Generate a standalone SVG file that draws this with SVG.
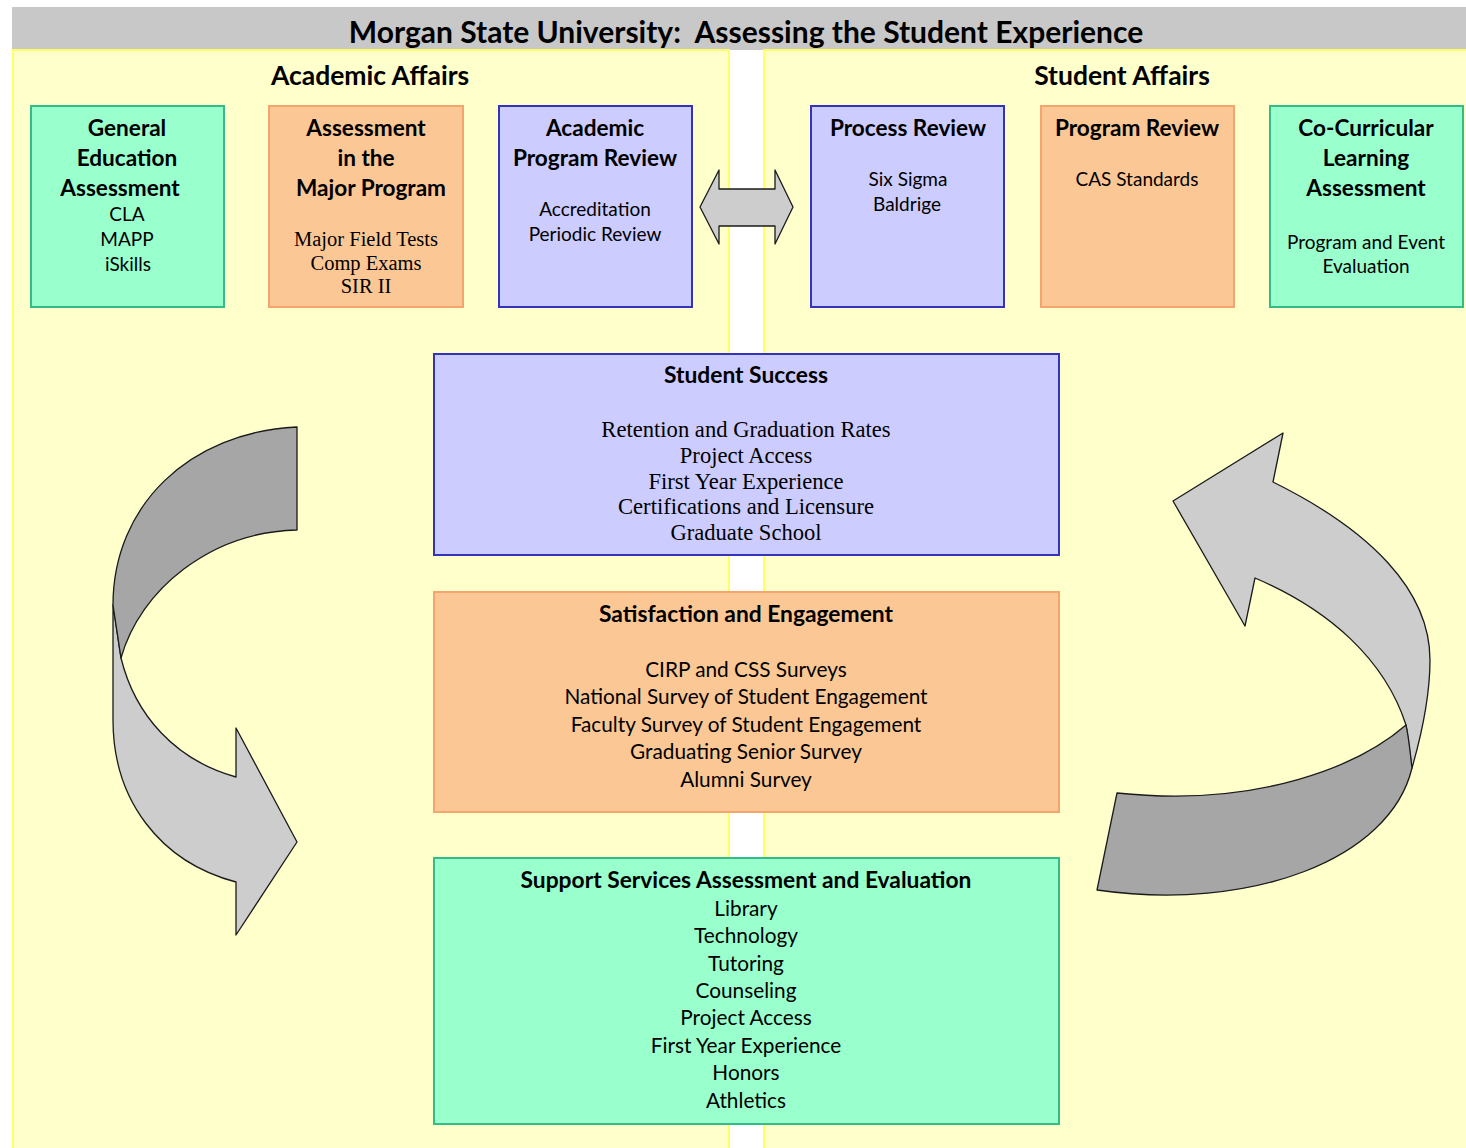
<svg xmlns="http://www.w3.org/2000/svg" width="1466" height="1148" viewBox="0 0 1466 1148">
<style>
.h{font-family:Lato,"Liberation Sans",sans-serif;font-weight:bold;fill:#000;text-anchor:middle}
.b{font-family:Lato,"Liberation Sans",sans-serif;fill:#000;text-anchor:middle}
.s{font-family:"Liberation Serif",serif;fill:#000;text-anchor:middle}
.green{fill:#99FFCC;stroke:#33BB88;stroke-width:2}
.orange{fill:#FBC895;stroke:#F4A46E;stroke-width:2}
.blue{fill:#CCCCFF;stroke:#3333BB;stroke-width:2}
.panel{fill:#FFFFCC;stroke:#FFFF66;stroke-width:2}
.light{fill:#CDCDCD;stroke:#1a1a1a;stroke-width:1.3;stroke-linejoin:round}
.dark{fill:#A6A6A6;stroke:#1a1a1a;stroke-width:1.3;stroke-linejoin:round}
</style>
<rect x="0" y="0" width="1466" height="1148" fill="#FFFFFF"/>
<rect x="12" y="7" width="1454" height="43" fill="#C8C8C8"/>
<rect class="panel" x="13" y="50" width="716" height="1100"/>
<rect class="panel" x="764" y="50" width="704" height="1100"/>
<text class="h" x="746" y="43" font-size="30" style="white-space:pre" xml:space="preserve">Morgan State University:  Assessing the Student Experience</text>
<text class="h" x="370" y="85" font-size="26.5">Academic Affairs</text>
<text class="h" x="1122" y="85" font-size="26.5">Student Affairs</text>

<g id="gen-ed">
<rect class="green" x="31" y="106" width="193" height="201"/>
<text class="h" font-size="22.6"><tspan x="127" y="136">General</tspan><tspan x="127" y="166">Education</tspan><tspan x="120" y="196">Assessment</tspan></text>
<text class="b" font-size="19"><tspan x="127" y="221">CLA</tspan><tspan x="127" y="246">MAPP</tspan><tspan x="128" y="271">iSkills</tspan></text>
</g>
<g id="major">
<rect class="orange" x="269" y="106" width="194" height="201"/>
<text class="h" font-size="22.6"><tspan x="366" y="136">Assessment</tspan><tspan x="366" y="166">in the</tspan><tspan x="371" y="196">Major Program</tspan></text>
<text class="s" font-size="20.5"><tspan x="366" y="246">Major Field Tests</tspan><tspan x="366" y="270">Comp Exams</tspan><tspan x="366" y="293">SIR II</tspan></text>
</g>
<g id="acad-review">
<rect class="blue" x="499" y="106" width="193" height="201"/>
<text class="h" font-size="22.6"><tspan x="595" y="136">Academic</tspan><tspan x="595" y="166">Program Review</tspan></text>
<text class="b" font-size="19"><tspan x="595" y="216">Accreditation</tspan><tspan x="595" y="241">Periodic Review</tspan></text>
</g>
<g id="process-review">
<rect class="blue" x="811" y="106" width="193" height="201"/>
<text class="h" font-size="22.6"><tspan x="908" y="136">Process Review</tspan></text>
<text class="b" font-size="19"><tspan x="908" y="186">Six Sigma</tspan><tspan x="907" y="211">Baldrige</tspan></text>
</g>
<g id="program-review">
<rect class="orange" x="1041" y="106" width="193" height="201"/>
<text class="h" font-size="22.6"><tspan x="1137" y="136">Program Review</tspan></text>
<text class="b" font-size="19"><tspan x="1137" y="186">CAS Standards</tspan></text>
</g>
<g id="co-curricular">
<rect class="green" x="1270" y="106" width="193" height="201"/>
<text class="h" font-size="22.6"><tspan x="1366" y="136">Co-Curricular</tspan><tspan x="1366" y="166">Learning</tspan><tspan x="1366" y="196">Assessment</tspan></text>
<text class="b" font-size="19"><tspan x="1366" y="249">Program and Event</tspan><tspan x="1366" y="273">Evaluation</tspan></text>
</g>

<g id="student-success">
<rect class="blue" x="434" y="354" width="625" height="201"/>
<text class="h" font-size="22.8" x="746" y="383">Student Success</text>
<text class="s" font-size="22.6"><tspan x="746" y="437">Retention and Graduation Rates</tspan><tspan x="746" y="463">Project Access</tspan><tspan x="746" y="489">First Year Experience</tspan><tspan x="746" y="514">Certifications and Licensure</tspan><tspan x="746" y="540">Graduate School</tspan></text>
</g>
<g id="satisfaction">
<rect class="orange" x="434" y="592" width="625" height="220"/>
<text class="h" font-size="22.8" x="746" y="622">Satisfaction and Engagement</text>
<text class="b" font-size="20.8"><tspan x="746" y="677">CIRP and CSS Surveys</tspan><tspan x="746" y="704">National Survey of Student Engagement</tspan><tspan x="746" y="732">Faculty Survey of Student Engagement</tspan><tspan x="746" y="759">Graduating Senior Survey</tspan><tspan x="746" y="787">Alumni Survey</tspan></text>
</g>
<g id="support">
<rect class="green" x="434" y="858" width="625" height="266"/>
<text class="h" font-size="22.8" x="746" y="888">Support Services Assessment and Evaluation</text>
<text class="b" font-size="20.8"><tspan x="746" y="916">Library</tspan><tspan x="746" y="943">Technology</tspan><tspan x="746" y="971">Tutoring</tspan><tspan x="746" y="998">Counseling</tspan><tspan x="746" y="1025">Project Access</tspan><tspan x="746" y="1053">First Year Experience</tspan><tspan x="746" y="1080">Honors</tspan><tspan x="746" y="1108">Athletics</tspan></text>
</g>

<g id="connectors">
<path class="light" d="M700,207 L719,170 L719,189 L775,189 L775,170 L793,207 L775,244 L775,226 L719,226 L719,244 Z"/>
<path class="light" d="M113,605 L113,720 C113,800 160,862 236,882 L236,935 L297,842 L236,728 L236,777 C175,760 135,715 121,658 Z"/>
<path class="dark" d="M297,427 C190,432 113,505 113,605 L121,658 C140,590 210,532 297,530 Z"/>
<path class="light" d="M1173,501 L1283,433 L1273,482 C1370,530 1430,590 1430,660 C1430,700 1420,740 1412,768 L1406,725 C1385,660 1330,610 1255,578 L1245,626 Z"/>
<path class="dark" d="M1406,725 C1360,765 1260,808 1117,793 L1097,890 C1250,912 1390,860 1412,768 C1410,752 1409,738 1406,725 Z"/>
</g>
</svg>
